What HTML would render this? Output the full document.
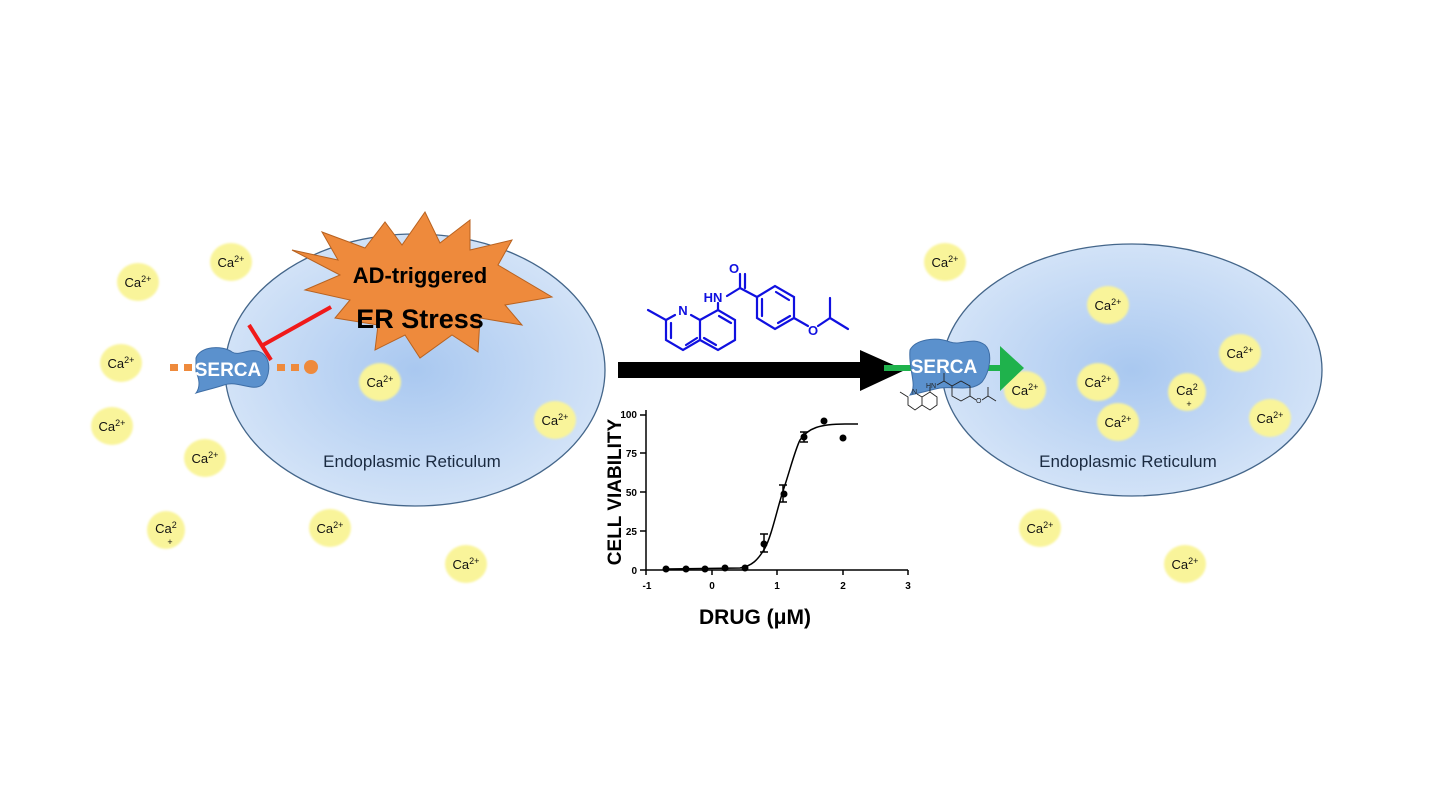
<!DOCTYPE html>
<html><head><meta charset="utf-8"><style>
html,body{margin:0;padding:0;background:#fff;}
svg{display:block;}
text{font-family:"Liberation Sans",sans-serif;}
.ca{fill:#f9f49a;}
.ct{font-size:13px;fill:#111;text-anchor:middle;}
</style></head><body>
<svg width="1440" height="810" viewBox="0 0 1440 810" xmlns="http://www.w3.org/2000/svg">
<defs>
<radialGradient id="er" cx="0.5" cy="0.5" r="0.55">
<stop offset="0" stop-color="#a9c8f0"/><stop offset="1" stop-color="#d6e5f8"/>
</radialGradient>
<filter id="bl"><feGaussianBlur stdDeviation="1"/></filter>
</defs>

<ellipse cx="415" cy="370" rx="190" ry="136" fill="url(#er)" stroke="#44668a" stroke-width="1.3"/>
<ellipse cx="1132" cy="370" rx="190" ry="126" fill="url(#er)" stroke="#44668a" stroke-width="1.3"/>

<g filter="url(#bl)">
<g class="ca">
<ellipse cx="138" cy="282" rx="21" ry="19"/><ellipse cx="231" cy="262" rx="21" ry="19"/>
<ellipse cx="121" cy="363" rx="21" ry="19"/><ellipse cx="112" cy="426" rx="21" ry="19"/>
<ellipse cx="205" cy="458" rx="21" ry="19"/><ellipse cx="166" cy="530" rx="19" ry="19"/>
<ellipse cx="330" cy="528" rx="21" ry="19"/><ellipse cx="466" cy="564" rx="21" ry="19"/>
<ellipse cx="380" cy="382" rx="21" ry="19"/><ellipse cx="555" cy="420" rx="21" ry="19"/>
<ellipse cx="945" cy="262" rx="21" ry="19"/><ellipse cx="1108" cy="305" rx="21" ry="19"/>
<ellipse cx="1240" cy="353" rx="21" ry="19"/><ellipse cx="1025" cy="390" rx="21" ry="19"/>
<ellipse cx="1098" cy="382" rx="21" ry="19"/><ellipse cx="1187" cy="392" rx="19" ry="19"/>
<ellipse cx="1118" cy="422" rx="21" ry="19"/><ellipse cx="1270" cy="418" rx="21" ry="19"/>
<ellipse cx="1040" cy="528" rx="21" ry="19"/><ellipse cx="1185" cy="564" rx="21" ry="19"/>
</g></g>
<g class="ct">
<text x="138" y="287">Ca<tspan font-size="9" dy="-5">2+</tspan></text>
<text x="231" y="267">Ca<tspan font-size="9" dy="-5">2+</tspan></text>
<text x="121" y="368">Ca<tspan font-size="9" dy="-5">2+</tspan></text>
<text x="112" y="431">Ca<tspan font-size="9" dy="-5">2+</tspan></text>
<text x="205" y="463">Ca<tspan font-size="9" dy="-5">2+</tspan></text>
<text x="166" y="533">Ca<tspan font-size="9" dy="-5">2</tspan></text><text x="170" y="545" font-size="9">+</text>
<text x="330" y="533">Ca<tspan font-size="9" dy="-5">2+</tspan></text>
<text x="466" y="569">Ca<tspan font-size="9" dy="-5">2+</tspan></text>
<text x="380" y="387">Ca<tspan font-size="9" dy="-5">2+</tspan></text>
<text x="555" y="425">Ca<tspan font-size="9" dy="-5">2+</tspan></text>
<text x="945" y="267">Ca<tspan font-size="9" dy="-5">2+</tspan></text>
<text x="1108" y="310">Ca<tspan font-size="9" dy="-5">2+</tspan></text>
<text x="1240" y="358">Ca<tspan font-size="9" dy="-5">2+</tspan></text>
<text x="1025" y="395">Ca<tspan font-size="9" dy="-5">2+</tspan></text>
<text x="1098" y="387">Ca<tspan font-size="9" dy="-5">2+</tspan></text>
<text x="1187" y="395">Ca<tspan font-size="9" dy="-5">2</tspan></text><text x="1189" y="407" font-size="9">+</text>
<text x="1118" y="427">Ca<tspan font-size="9" dy="-5">2+</tspan></text>
<text x="1270" y="423">Ca<tspan font-size="9" dy="-5">2+</tspan></text>
<text x="1040" y="533">Ca<tspan font-size="9" dy="-5">2+</tspan></text>
<text x="1185" y="569">Ca<tspan font-size="9" dy="-5">2+</tspan></text>
</g>

<text x="412" y="467" font-size="17" fill="#1a2a40" text-anchor="middle">Endoplasmic Reticulum</text>
<text x="1128" y="467" font-size="17" fill="#1a2a40" text-anchor="middle">Endoplasmic Reticulum</text>

<polygon fill="#ee8a3c" stroke="#b86220" stroke-width="1" points="
292,250 338,260 322,232 365,248 385,222 402,245 425,212 440,243 470,220 470,250 512,240 498,265 552,297 505,305 522,325 480,318 478,352 452,335 420,358 405,335 375,350 378,325 335,318 350,300 305,290 340,275"/>
<text x="420" y="283" font-size="22" font-weight="bold" fill="#000" text-anchor="middle">AD-triggered</text>
<text x="420" y="328" font-size="27" font-weight="bold" fill="#000" text-anchor="middle">ER Stress</text>

<g fill="#ee8a3c">
<rect x="170" y="364" width="8" height="7"/><rect x="184" y="364" width="8" height="7"/>
<rect x="277" y="364" width="8" height="7"/><rect x="291" y="364" width="8" height="7"/>
<circle cx="311" cy="367" r="7"/>
</g>
<path d="M196,358 C200,346 222,345 232,352 C240,357 250,346 262,353 C272,360 270,378 262,385 C252,392 238,380 224,385 C212,389 205,390 196,393 C200,388 200,380 196,372 Z" fill="#5b91cd" stroke="#3e6ea6" stroke-width="1"/>
<text x="228" y="376" font-size="19" font-weight="bold" fill="#fff" text-anchor="middle">SERCA</text>
<line x1="331" y1="307" x2="263" y2="345" stroke="#f01a1a" stroke-width="4"/>
<line x1="249" y1="325" x2="271" y2="360" stroke="#f01a1a" stroke-width="4"/>

<polygon points="618,362 860,362 860,350 905,370 860,391 860,378 618,378" fill="#000"/>

<g stroke="#1010e0" stroke-width="2.2" fill="none" stroke-linecap="round">
<polyline points="648,310 666,320 666,340 683,350 700,340 700,320 691,315"/>
<line x1="675" y1="315" x2="666" y2="320"/>
<line x1="671" y1="323" x2="671" y2="338"/>
<line x1="686" y1="345" x2="697" y2="338"/>
<polyline points="700,320 718,310 735,320 735,340 718,350 700,340"/>
<line x1="719" y1="316" x2="731" y2="323"/>
<line x1="704" y1="338" x2="716" y2="345"/>
<line x1="718" y1="310" x2="718" y2="303"/>
<line x1="727" y1="296" x2="740" y2="288"/>
<line x1="740" y1="288" x2="740" y2="274"/>
<line x1="745" y1="288" x2="745" y2="274"/>
<line x1="740" y1="288" x2="757" y2="297"/>
<polygon points="757,297 775,286 794,297 794,318 775,329 757,318"/>
<line x1="776" y1="292" x2="789" y2="300"/>
<line x1="762" y1="299" x2="762" y2="316"/>
<line x1="778" y1="323" x2="790" y2="316"/>
<line x1="794" y1="318" x2="808" y2="326"/>
<line x1="818" y1="326" x2="830" y2="318"/>
<line x1="830" y1="318" x2="830" y2="298"/>
<line x1="830" y1="318" x2="848" y2="329"/>
</g>
<g fill="#1010e0" font-size="13" font-weight="bold">
<text x="734" y="273" text-anchor="middle">O</text>
<text x="713" y="302" text-anchor="middle">HN</text>
<text x="683" y="315" text-anchor="middle">N</text>
<text x="813" y="335" text-anchor="middle">O</text>
</g>

<g stroke="#000" stroke-width="1.5" fill="none">
<line x1="646" y1="410" x2="646" y2="570"/>
<line x1="646" y1="570" x2="908" y2="570"/>
<line x1="640" y1="415" x2="646" y2="415"/><line x1="640" y1="453" x2="646" y2="453"/>
<line x1="640" y1="492" x2="646" y2="492"/><line x1="640" y1="531" x2="646" y2="531"/>
<line x1="640" y1="570" x2="646" y2="570"/>
<line x1="646" y1="570" x2="646" y2="575"/><line x1="712" y1="570" x2="712" y2="575"/>
<line x1="777" y1="570" x2="777" y2="575"/><line x1="843" y1="570" x2="843" y2="575"/>
<line x1="908" y1="570" x2="908" y2="575"/>
<path d="M666,569 L740,568 C752,566 758,560 765,548 C772,535 778,505 784,488 C790,470 795,450 800,440 C808,428 820,424 845,424 L858,424"/>
<line x1="764" y1="534" x2="764" y2="552"/><line x1="760" y1="534" x2="768" y2="534"/><line x1="760" y1="552" x2="768" y2="552"/>
<line x1="783" y1="485" x2="783" y2="502"/><line x1="779" y1="485" x2="787" y2="485"/><line x1="779" y1="502" x2="787" y2="502"/>
<line x1="804" y1="432" x2="804" y2="442"/><line x1="800" y1="432" x2="808" y2="432"/><line x1="800" y1="442" x2="808" y2="442"/>
</g>
<g fill="#000">
<circle cx="666" cy="569" r="3.5"/><circle cx="686" cy="569" r="3.5"/><circle cx="705" cy="569" r="3.5"/>
<circle cx="725" cy="568" r="3.5"/><circle cx="745" cy="568" r="3.5"/><circle cx="764" cy="544" r="3.5"/>
<circle cx="784" cy="494" r="3.5"/><circle cx="804" cy="437" r="3.5"/><circle cx="824" cy="421" r="3.5"/>
<circle cx="843" cy="438" r="3.5"/>
</g>
<g font-size="10" font-weight="bold" fill="#000">
<text x="637" y="418" text-anchor="end">100</text><text x="637" y="457" text-anchor="end">75</text>
<text x="637" y="496" text-anchor="end">50</text><text x="637" y="535" text-anchor="end">25</text>
<text x="637" y="574" text-anchor="end">0</text>
<text x="647" y="589" text-anchor="middle">-1</text><text x="712" y="589" text-anchor="middle">0</text>
<text x="777" y="589" text-anchor="middle">1</text><text x="843" y="589" text-anchor="middle">2</text>
<text x="908" y="589" text-anchor="middle">3</text>
</g>
<text x="0" y="0" font-size="19" font-weight="bold" fill="#000" text-anchor="middle" transform="translate(621,492) rotate(-90)">CELL VIABILITY</text>
<text x="755" y="624" font-size="21" font-weight="bold" fill="#000" text-anchor="middle">DRUG (μM)</text>

<line x1="884" y1="368" x2="1002" y2="368" stroke="#1fb24c" stroke-width="6"/>
<polygon points="1000,346 1024,368 1000,391" fill="#1fb24c"/>
<path d="M910,350 C915,340 935,336 950,342 C962,346 972,336 985,345 C993,352 990,372 982,382 C972,392 955,386 940,388 C930,390 925,392 910,395 C918,385 908,370 910,350 Z" fill="#5b91cd" stroke="#3e6ea6" stroke-width="1"/>
<text x="944" y="373" font-size="19" font-weight="bold" fill="#fff" text-anchor="middle">SERCA</text>
<g stroke="#222" stroke-width="0.9" fill="none">
<polyline points="900,392 908,397 908,405 915,410 922,405 922,397 917,394"/>
<polyline points="922,397 930,392 937,397 937,405 930,410 922,405"/>
<line x1="930" y1="392" x2="930" y2="387"/>
<line x1="937" y1="385" x2="944" y2="381"/><line x1="944" y1="381" x2="944" y2="373"/>
<line x1="944" y1="381" x2="952" y2="386"/>
<polygon points="952,386 961,381 970,386 970,396 961,401 952,396"/>
<line x1="970" y1="396" x2="976" y2="400"/><line x1="982" y1="400" x2="988" y2="396"/>
<line x1="988" y1="396" x2="988" y2="387"/><line x1="988" y1="396" x2="996" y2="401"/>
</g>
<g font-size="7" fill="#222"><text x="912" y="394">N</text><text x="926" y="388">HN</text><text x="976" y="403">O</text></g>
</svg>
</body></html>
